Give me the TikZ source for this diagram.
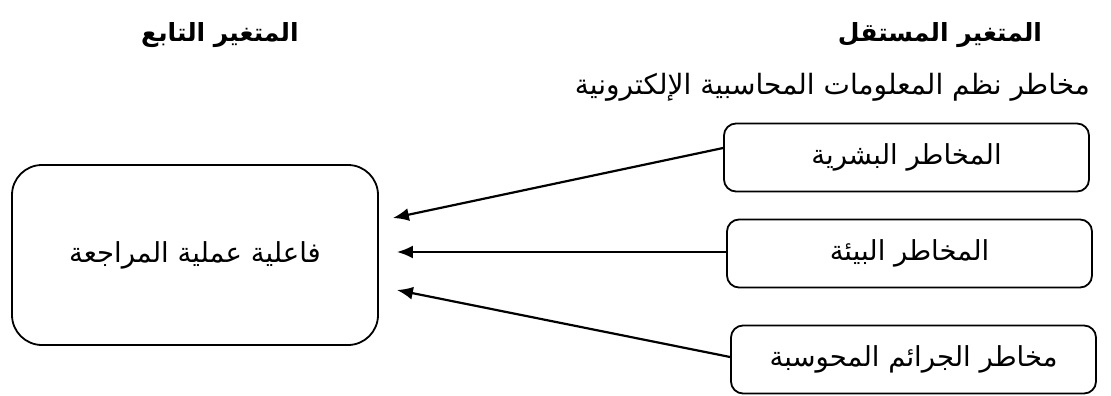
\documentclass[tikz,border=0pt]{standalone}
\usepackage{fontspec}
\setmainfont{DejaVu Sans}
\newfontfamily\arabicfont[Script=Arabic]{DejaVu Sans}
\TeXXeTstate=1
\usetikzlibrary{arrows.meta}
\newcommand{\ar}[1]{\arabicfont\beginR #1\endR}
\begin{document}
\begin{tikzpicture}[x=1pt,y=-1pt,
  riskbox/.style={draw, line width=1.8pt, rounded corners=12pt,
    minimum width=365pt, minimum height=68pt, inner sep=0pt,
    font=\fontsize{27.5}{32}\selectfont},
  resultbox/.style={draw, line width=1.8pt, rounded corners=30pt,
    minimum width=366pt, minimum height=180pt, inner sep=0pt,
    font=\fontsize{27.5}{32}\selectfont},
  heading/.style={font=\fontsize{25}{29}\selectfont\bfseries, inner sep=0pt},
  subheading/.style={font=\fontsize{28}{32}\selectfont, inner sep=0pt},
  link/.style={line width=2.2pt, -{Latex[length=16pt,width=13pt]}}]
  \useasboundingbox (0,0) rectangle (1111,396);

  % headings
  \node[heading] (hdep) at (220,35) {\ar{المتغير التابع}};
  \node[heading] (hind) at (940,35) {\ar{المتغير المستقل}};
  \node[subheading, anchor=east] (hsub) at (1090,87)
    {\ar{مخاطر نظم المعلومات المحاسبية الإلكترونية}};

  % dependent variable
  \node[resultbox] (dep) at (195,255) {\ar{فاعلية عملية المراجعة}};

  % independent variables
  \node[riskbox] (human) at (906.5,157.5) {\ar{المخاطر البشرية}};
  \node[riskbox] (env)   at (909.5,253.5) {\ar{المخاطر البيئة}};
  \node[riskbox] (crime) at (913.5,359.5) {\ar{مخاطر الجرائم المحوسبة}};

  % influences
  \draw[link] ([yshift=9.5pt]human.west) -- ([xshift=14pt,yshift=37pt]dep.east);
  \draw[link] ([yshift=1.5pt]env.west) -- ([xshift=18pt,yshift=3pt]dep.east);
  \draw[link] ([yshift=2.5pt]crime.west) -- ([xshift=18pt,yshift=-35pt]dep.east);
\end{tikzpicture}
\end{document}
